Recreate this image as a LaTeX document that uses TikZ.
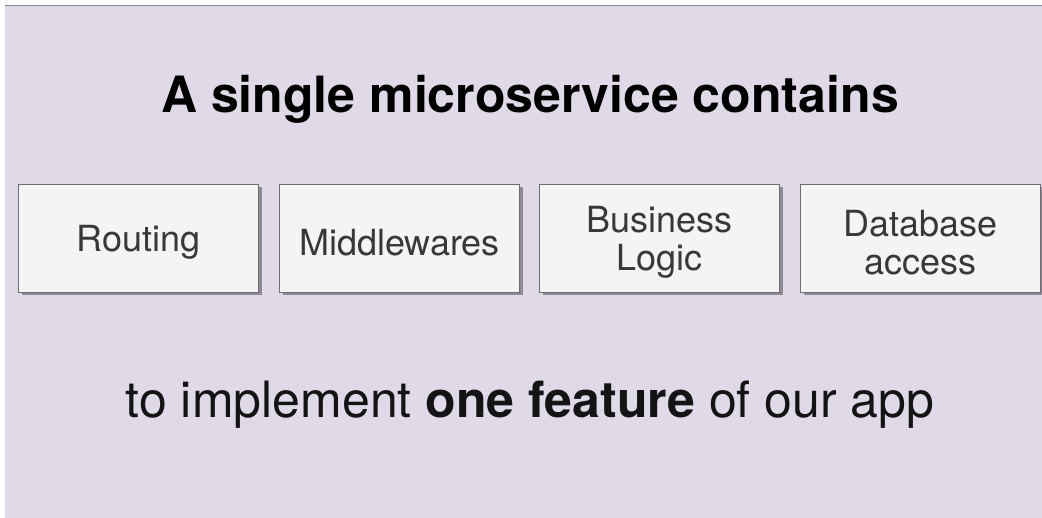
\documentclass[tikz,border=0pt]{standalone}
\usepackage{fontspec}
\setmainfont{TeX Gyre Heros}
\definecolor{slidebg}{HTML}{E0D9E8}
\definecolor{boxfill}{HTML}{F4F4F4}
\definecolor{boxline}{HTML}{6E6E72}
\definecolor{boxshadow}{HTML}{8E8994}
\definecolor{boxtext}{HTML}{383838}
\definecolor{edgeline}{HTML}{8A8690}
\tikzset{
  part/.style={draw=boxline, line width=1.4pt, fill=boxfill,
    minimum width=240pt, minimum height=108pt, inner sep=0pt},
  parttext/.style={align=center, text=boxtext, inner sep=0pt,
    font=\fontsize{36}{38}\selectfont},
  partshadow/.style={fill=boxshadow, draw=none, minimum width=240pt,
    minimum height=108pt, inner sep=0pt},
  heading/.style={font=\fontsize{50}{56}\selectfont\bfseries, anchor=base, inner sep=0pt},
  caption/.style={font=\fontsize{50}{56}\selectfont, anchor=base, inner sep=0pt, text=black!92}
}
\begin{document}
\begin{tikzpicture}[x=1pt,y=-1pt]
  % page and slide area
  \useasboundingbox (0,0) rectangle (1042,518);
  \fill[white] (0,0) rectangle (1042,518);
  \fill[slidebg] (5,6) rectangle (1042,518);
  \draw[edgeline, line width=1.5pt] (5,5.5) -- (1042,5.5);

  % title
  \node[heading] (title) at (530,113) {A single microservice contains};

  % shadows under the four parts
  \foreach \cx/\nm in {141.5/s1, 402.5/s2, 662.5/s3, 923.5/s4}
    \node[partshadow] (\nm) at (\cx,241.5) {};

  % the four parts of a microservice
  \node[part] (routing) at (138.5,238.5) {};
  \node[part] (middle)  at (399.5,238.5) {};
  \node[part] (logic)   at (659.5,238.5) {};
  \node[part] (db)      at (920.5,238.5) {};

  \node[parttext] (routingtxt) at ([yshift=-4pt]routing.center) {Routing};
  \node[parttext] (middletxt)  at ([yshift=-4pt]middle.center)  {Middlewares};
  \node[parttext] (logictxt)   at ([yshift=-4pt]logic.center)   {Business\\Logic};
  \node[parttext] (dbtxt)      at ([yshift=-4pt]db.center)      {Database\\access};

  % closing line
  \node[caption] (purpose) at (530,418) {to implement \textbf{one feature} of our app};
\end{tikzpicture}
\end{document}
